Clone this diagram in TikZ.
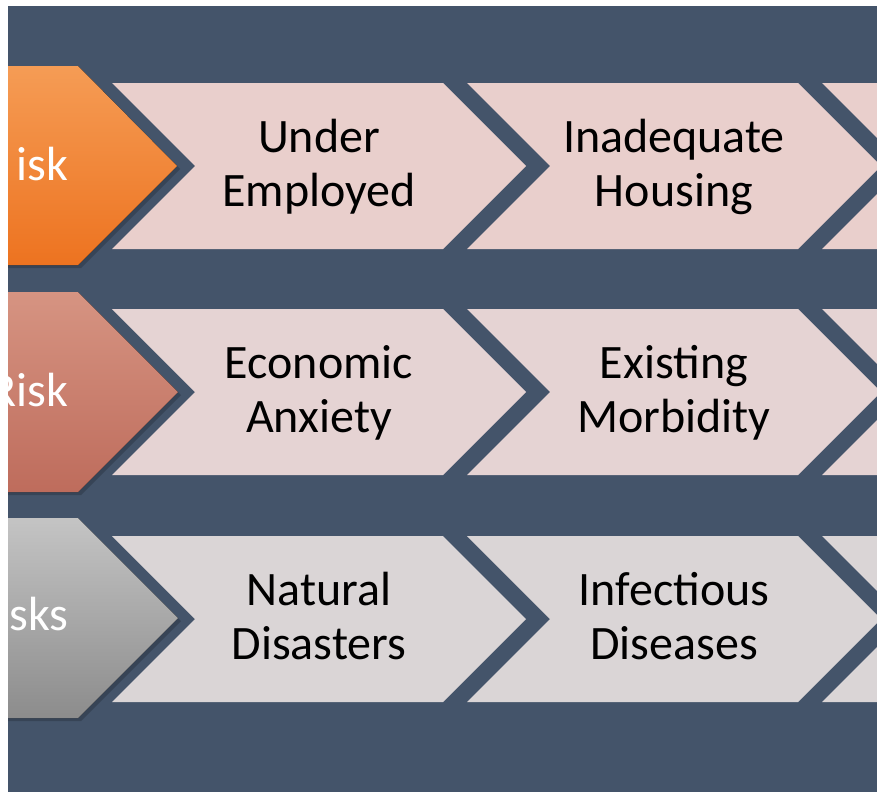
\documentclass[tikz,border=0pt]{standalone}
\usepackage{fontspec}
\setmainfont{Carlito}
\usepackage{tikz}

\definecolor{slate}{HTML}{44546A}
\definecolor{orangeT}{HTML}{F59C55}
\definecolor{orangeB}{HTML}{ED7320}
\definecolor{roseT}{HTML}{D69482}
\definecolor{roseB}{HTML}{BE6C5C}
\definecolor{greyT}{HTML}{C4C4C4}
\definecolor{greyB}{HTML}{8C8C8C}
\definecolor{pinkA}{HTML}{E9CFCC}
\definecolor{pinkB}{HTML}{E5D3D3}
\definecolor{pinkC}{HTML}{DAD5D6}

\begin{document}
\begin{tikzpicture}[x=1pt,y=-1pt,
  shade/.style={fill=black,opacity=.18},
  word/.style={font=\fontsize{48}{54}\selectfont,align=center,text=black},
  tag/.style={font=\fontsize{48}{54}\selectfont,text=white,anchor=base east}]
\useasboundingbox (0,0) rectangle (877,792);
\fill[white] (0,0) rectangle (877,792);
\fill[slate] (8,6) rectangle (877,792);

\begin{scope}
\clip (8,6) rectangle (877,792);

% top row
\fill[shade] (0,69) -- (81,69) -- (180,169) -- (81,268) -- (0,268) -- cycle;
\fill[top color=orangeT,bottom color=orangeB] (0,66) -- (78,66) -- (177,166) -- (78,265) -- (0,265) -- cycle;
\fill[pinkA] (112,83) -- (443,83) -- (526,166) -- (443,249) -- (112,249) -- (195,166) -- cycle;
\fill[pinkA] (467,83) -- (798,83) -- (881,166) -- (798,249) -- (467,249) -- (550,166) -- cycle;
\fill[pinkA] (822,83) -- (900,83) -- (900,249) -- (822,249) -- (905,166) -- cycle;

% middle row
\fill[shade] (0,295) -- (81,295) -- (181,395) -- (81,495) -- (0,495) -- cycle;
\fill[top color=roseT,bottom color=roseB] (0,292) -- (78,292) -- (178,392) -- (78,492) -- (0,492) -- cycle;
\fill[pinkB] (112,309) -- (443,309) -- (526,392) -- (443,475) -- (112,475) -- (195,392) -- cycle;
\fill[pinkB] (467,309) -- (798,309) -- (881,392) -- (798,475) -- (467,475) -- (550,392) -- cycle;
\fill[pinkB] (822,309) -- (900,309) -- (900,475) -- (822,475) -- (905,392) -- cycle;

% bottom row
\fill[shade] (0,521) -- (81,521) -- (181,621) -- (81,721) -- (0,721) -- cycle;
\fill[top color=greyT,bottom color=greyB] (0,518) -- (78,518) -- (178,618) -- (78,718) -- (0,718) -- cycle;
\fill[pinkC] (112,536) -- (443,536) -- (526,619) -- (443,702) -- (112,702) -- (195,619) -- cycle;
\fill[pinkC] (467,536) -- (798,536) -- (881,619) -- (798,702) -- (467,702) -- (550,619) -- cycle;
\fill[pinkC] (822,536) -- (900,536) -- (900,702) -- (822,702) -- (905,619) -- cycle;

\node[tag] (high) at (72,180) {isk};
\node[tag] (mid) at (72,406) {Risk};
\node[tag] (low) at (72,630) {isks};
\end{scope}

\node[word] (under) at (319,169) {Under\strut\\Employed\strut};
\node[word] (housing) at (674,169) {Inadequate\strut\\Housing\strut};
\node[word] (anxiety) at (319,395) {Economic\strut\\Anxiety\strut};
\node[word] (morbid) at (674,395) {Existing\strut\\Morbidity\strut};
\node[word] (natural) at (319,622) {Natural\strut\\Disasters\strut};
\node[word] (disease) at (674,622) {Infectious\strut\\Diseases\strut};
\end{tikzpicture}
\end{document}
